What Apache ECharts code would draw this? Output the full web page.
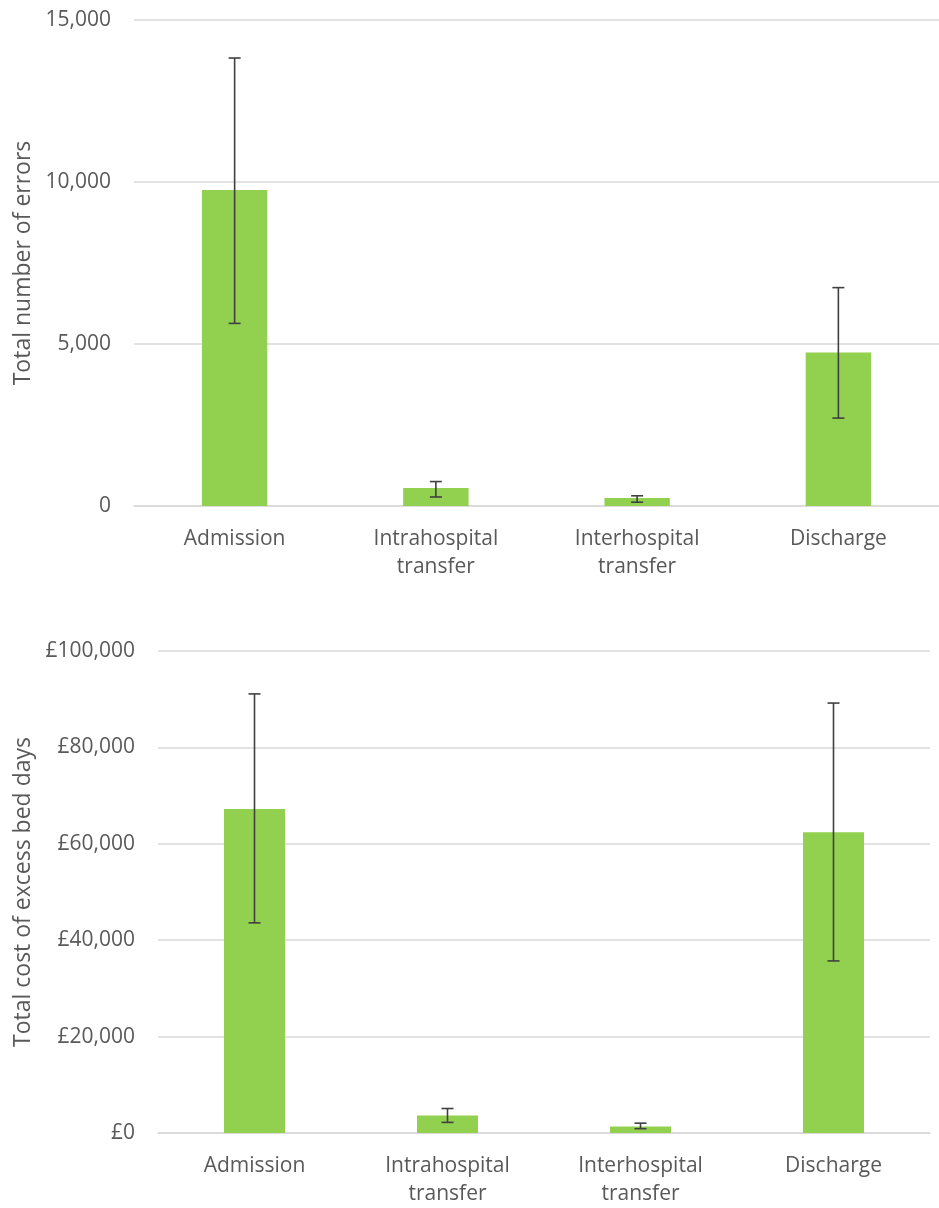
<!DOCTYPE html>
<html>
<head>
<meta charset="utf-8">
<script src="https://cdn.jsdelivr.net/npm/echarts@6/dist/echarts.min.js"></script>
<style>
html,body{margin:0;padding:0;background:#fff;}
#chart{width:939px;height:1208px;}
</style>
</head>
<body>
<div id="chart"></div>
<script>
const categories = ['Admission', 'Intrahospital\ntransfer', 'Interhospital\ntransfer', 'Discharge'];
const errorsTotal = [9756, 556, 247, 4737];
const errorsLow = [5636, 278, 117, 2713];
const errorsHigh = [13826, 754, 315, 6740];
const costTotal = [67200, 3640, 1360, 62400];
const costLow = [43600, 2200, 900, 35700];
const costHigh = [91100, 5080, 2040, 89200];
const errorsAxis = { min: 0, max: 15000, interval: 5000 };
const costAxis = { min: 0, max: 100000, interval: 20000 };

const FONT = '"Open Sans", "Noto Sans", sans-serif';
const TEXT = '#595959';
const GRIDC = '#d9d9d9';
const GREEN = '#92D050';
const ERRC = '#404040';

function fmt(v) { return String(v).replace(/\B(?=(\d{3})+(?!\d))/g, ','); }

function renderErr(params, api) {
  const x = api.value(0), lo = api.value(1), hi = api.value(2);
  const pHi = api.coord([x, hi]);
  const pLo = api.coord([x, lo]);
  const cap = 6;
  const st = { stroke: ERRC, lineWidth: 1.6 };
  return {
    type: 'group',
    children: [
      { type: 'line', shape: { x1: pHi[0], y1: pHi[1], x2: pLo[0], y2: pLo[1] }, style: st },
      { type: 'line', shape: { x1: pHi[0] - cap, y1: pHi[1], x2: pHi[0] + cap, y2: pHi[1] }, style: st },
      { type: 'line', shape: { x1: pLo[0] - cap, y1: pLo[1], x2: pLo[0] + cap, y2: pLo[1] }, style: st }
    ]
  };
}

function xAxisCfg(gi) {
  return {
    type: 'category', gridIndex: gi, data: categories,
    axisLine: { show: true, lineStyle: { color: GRIDC, width: 1.5 } },
    axisTick: { show: false },
    axisLabel: { color: TEXT, fontFamily: FONT, fontSize: 21, margin: 19, lineHeight: 28, interval: 0 }
  };
}
function yAxisCfg(gi, ax, name, gap, pre) {
  return {
    type: 'value', gridIndex: gi, min: ax.min, max: ax.max, interval: ax.interval,
    name: name, nameLocation: 'middle', nameGap: gap, nameRotate: 90,
    nameTextStyle: { color: TEXT, fontFamily: FONT, fontSize: 23 },
    axisLine: { show: false }, axisTick: { show: false },
    axisLabel: { color: TEXT, fontFamily: FONT, fontSize: 21, margin: 23, formatter: v => pre + fmt(v) },
    splitLine: { lineStyle: { color: GRIDC, width: 1.5 } }
  };
}

const chart = echarts.init(document.getElementById('chart'), null, { renderer: 'canvas' });
chart.setOption({
  backgroundColor: '#fff',
  animation: false,
  grid: [
    { left: 134, top: 20, width: 812, height: 486 },
    { left: 158, top: 651, width: 772, height: 486 }
  ],
  xAxis: [xAxisCfg(0), xAxisCfg(1)],
  yAxis: [
    yAxisCfg(0, errorsAxis, 'Total number of errors', 99, ''),
    yAxisCfg(1, costAxis, 'Total cost of excess bed days', 123, '£')
  ],
  series: [
    { type: 'bar', xAxisIndex: 0, yAxisIndex: 0, data: errorsTotal, barWidth: '32.5%', itemStyle: { color: GREEN } },
    { type: 'custom', xAxisIndex: 0, yAxisIndex: 0, renderItem: renderErr, z: 10,
      encode: { x: 0, y: [1, 2] },
      data: categories.map((c, i) => [i, errorsLow[i], errorsHigh[i]]) },
    { type: 'bar', xAxisIndex: 1, yAxisIndex: 1, data: costTotal, barWidth: '31.6%', itemStyle: { color: GREEN } },
    { type: 'custom', xAxisIndex: 1, yAxisIndex: 1, renderItem: renderErr, z: 10,
      encode: { x: 0, y: [1, 2] },
      data: categories.map((c, i) => [i, costLow[i], costHigh[i]]) }
  ]
});
</script>
</body>
</html>
